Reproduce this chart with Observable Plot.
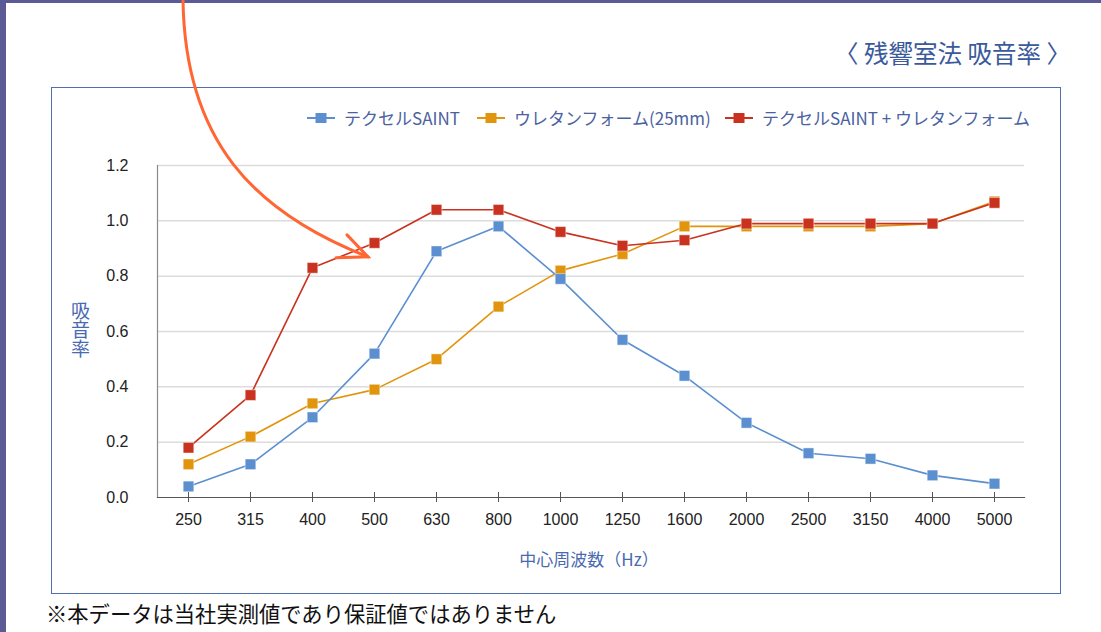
<!DOCTYPE html>
<html>
<head>
<meta charset="utf-8">
<script src="https://cdn.jsdelivr.net/npm/d3@7"></script>
<script src="https://cdn.jsdelivr.net/npm/@observablehq/plot@0.6"></script>
<style>
  html, body { margin: 0; padding: 0; background: #fff; }
  #page { position: relative; width: 1101px; height: 632px; overflow: hidden; background: #fff; font-family: "Noto Sans CJK JP", "Noto Sans", sans-serif; }
  .bar-top { position: absolute; left: 0; top: 0; width: 1101px; height: 3px; background: #5b5a95; }
  .bar-left { position: absolute; left: 0; top: 0; width: 6px; height: 632px; background: #5b5a95; }
  #box { position: absolute; left: 51px; top: 87px; width: 1008px; height: 505px; border: 1.5px solid #4f6fae; }
  #title { position: absolute; right: 30px; top: 36px; font-size: 24.5px; color: #3a5a9c; white-space: pre; line-height: 34px; }
  #legend { position: absolute; left: 0; top: 106px; width: 1101px; height: 24px; font-size: 17px; color: #4b62a0; line-height: 24px; }
  .item { position: absolute; top: 0; display: flex; align-items: center; gap: 9px; white-space: pre; }
  #ylabel { position: absolute; left: 70px; top: 301px; writing-mode: vertical-rl; text-orientation: upright; font-size: 19px; line-height: 20px; color: #4a6ab0; letter-spacing: 0; }
  #xlabel { position: absolute; left: 0; width: 1178px; text-align: center; top: 546px; font-size: 17px; color: #4a6ab0; line-height: 26px; }
  #caption { position: absolute; left: 46px; top: 599px; font-size: 21.3px; color: #111; line-height: 28px; white-space: pre; }
  #chart { position: absolute; left: 0; top: 0; }
  #overlay { position: absolute; left: 0; top: 0; pointer-events: none; }
</style>
</head>
<body>
<div id="page">
  <div class="bar-top"></div>
  <div class="bar-left"></div>
  <div id="box"></div>
  <div id="title">〈 残響室法 吸音率 〉</div>
  <div id="legend"></div>
  <div id="ylabel">吸音率</div>
  <div id="xlabel">中心周波数（Hz）</div>
  <div id="chart"></div>
  <div id="caption">※本データは当社実測値であり保証値ではありません</div>
</div>
<script>
// ---- data ----
const freqs = ["250", "315", "400", "500", "630", "800", "1000", "1250", "1600", "2000", "2500", "3150", "4000", "5000"];
const saintValues    = [0.04, 0.12, 0.29, 0.52, 0.89, 0.98, 0.79, 0.57, 0.44, 0.27, 0.16, 0.14, 0.08, 0.05];
const urethaneValues = [0.12, 0.22, 0.34, 0.39, 0.50, 0.69, 0.82, 0.88, 0.98, 0.98, 0.98, 0.98, 0.99, 1.07];
const comboValues    = [0.18, 0.37, 0.83, 0.92, 1.04, 1.04, 0.96, 0.91, 0.93, 0.99, 0.99, 0.99, 0.99, 1.065];
const seriesNames = ["テクセルSAINT", "ウレタンフォーム(25mm)", "テクセルSAINT + ウレタンフォーム"];
const seriesColors = ["#5b8fd0", "#e0950c", "#c9321f"];
const yTicks = [0, 0.2, 0.4, 0.6, 0.8, 1.0, 1.2];
const gridTicks = [0.2, 0.4, 0.6, 0.8, 1.0, 1.2];

const seriesValues = [saintValues, urethaneValues, comboValues];
const rows = seriesValues.map((vals, s) => vals.map((v, i) => ({series: seriesNames[s], freq: freqs[i], value: v})));
const drawOrder = [1, 0, 2];

const W = 1101, H = 632;
const seriesMarks = drawOrder.flatMap(s => [
  Plot.line(rows[s], {x: "freq", y: "value", stroke: seriesColors[s], strokeWidth: 1.6}),
  Plot.dot(rows[s], {x: "freq", y: "value", symbol: "square", r: 6, fill: seriesColors[s], stroke: "#ffffff", strokeOpacity: 0.45, strokeWidth: 1})
]);

const chart = Plot.plot({
  width: W,
  height: H,
  marginLeft: 157,
  marginRight: 77,
  marginTop: 165,
  marginBottom: 135,
  style: {background: "transparent", fontFamily: "'Liberation Sans', Arial, sans-serif", overflow: "visible"},
  x: {type: "point", domain: freqs, padding: 0.483, label: null},
  y: {domain: [0, 1.2], label: null},
  marks: [
    Plot.gridY(gridTicks, {stroke: "#dcdcdc", strokeOpacity: 1, strokeWidth: 1.5}),
    Plot.frame({anchor: "left", stroke: "#8a8a8a", strokeWidth: 1.2}),
    Plot.frame({anchor: "bottom", stroke: "#555", strokeWidth: 1.2}),
    Plot.axisY(yTicks, {tickSize: 0, tickPadding: 29, tickFormat: d3.format(".1f"), fontSize: 16, fill: "#222", label: null}),
    Plot.axisX({tickSize: 10, dy: -5, tickFormat: () => "", stroke: "#555", label: null}),
    Plot.axisX({tickSize: 0, tickPadding: 16, fontSize: 16, fill: "#222", label: null}),
    ...seriesMarks
  ]
});
document.getElementById("chart").appendChild(chart);

// ---- legend ----
const legend = document.getElementById("legend");
const legendLeft = [307, 477, 725];
seriesNames.forEach((name, s) => {
  const item = document.createElement("div");
  item.className = "item";
  item.style.left = legendLeft[s] + "px";
  item.innerHTML = `<svg width="28" height="12"><line x1="0" y1="6" x2="28" y2="6" stroke="${seriesColors[s]}" stroke-width="2"/><rect x="8.5" y="1" width="11" height="10" fill="${seriesColors[s]}"/></svg><span>${name}</span>`;
  legend.appendChild(item);
});

// ---- annotation arrow ----
const xs = chart.scale("x"), ys = chart.scale("y");
const tipX = xs.apply("500") - 6, tipY = ys.apply(0.868);
const ns = "http://www.w3.org/2000/svg";
const ov = document.createElementNS(ns, "svg");
ov.setAttribute("id", "overlay");
ov.setAttribute("width", W);
ov.setAttribute("height", H);
const startX = 183, startY = 0;
const p = document.createElementNS(ns, "path");
p.setAttribute("d", `M${startX},${startY} C${startX + 2},${startY + 140} ${startX + 70},${tipY - 45} ${tipX},${tipY}`);
p.setAttribute("fill", "none");
p.setAttribute("stroke", "#ff6633");
p.setAttribute("stroke-width", "3");
p.setAttribute("stroke-linecap", "round");
ov.appendChild(p);
const head = document.createElementNS(ns, "path");
head.setAttribute("d", `M${tipX - 21},${tipY - 22} L${tipX},${tipY} L${tipX - 32},${tipY + 1}`);
head.setAttribute("fill", "none");
head.setAttribute("stroke", "#ff6633");
head.setAttribute("stroke-width", "3");
head.setAttribute("stroke-linecap", "round");
ov.appendChild(head);
document.getElementById("page").appendChild(ov);
</script>
</body>
</html>
